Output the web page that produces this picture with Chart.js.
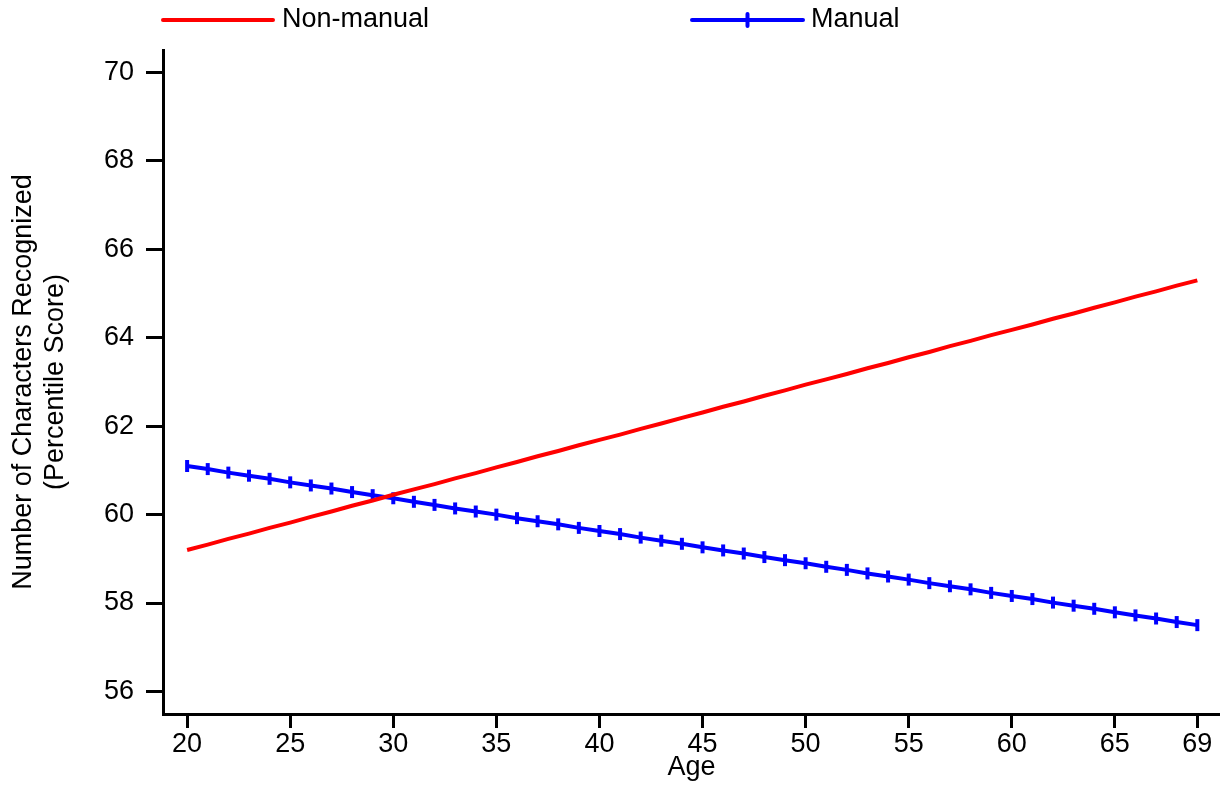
<!DOCTYPE html>
<html>
<head>
<meta charset="utf-8">
<script src="https://cdn.jsdelivr.net/npm/chart.js@4.4.1/dist/chart.umd.min.js"></script>
<style>
  body { margin: 0; background: #fff; }
</style>
</head>
<body>
<canvas id="chart" width="1220" height="786"></canvas>
<script>
// Data
const ages = [20, 21, 22, 23, 24, 25, 26, 27, 28, 29,
              30, 31, 32, 33, 34, 35, 36, 37, 38, 39,
              40, 41, 42, 43, 44, 45, 46, 47, 48, 49,
              50, 51, 52, 53, 54, 55, 56, 57, 58, 59,
              60, 61, 62, 63, 64, 65, 66, 67, 68, 69];

const nonManual = [59.20, 59.32, 59.45, 59.57, 59.70, 59.82, 59.95, 60.07, 60.20, 60.32,
                   60.45, 60.57, 60.69, 60.82, 60.94, 61.07, 61.19, 61.32, 61.44, 61.57,
                   61.69, 61.81, 61.94, 62.06, 62.19, 62.31, 62.44, 62.56, 62.69, 62.81,
                   62.94, 63.06, 63.18, 63.31, 63.43, 63.56, 63.68, 63.81, 63.93, 64.06,
                   64.18, 64.30, 64.43, 64.55, 64.68, 64.80, 64.93, 65.05, 65.18, 65.30];

const manual = [61.10, 61.03, 60.95, 60.88, 60.81, 60.73, 60.66, 60.59, 60.51, 60.44,
                60.37, 60.29, 60.22, 60.14, 60.07, 60.00, 59.92, 59.85, 59.78, 59.70,
                59.63, 59.56, 59.48, 59.41, 59.34, 59.26, 59.19, 59.12, 59.04, 58.97,
                58.90, 58.82, 58.75, 58.67, 58.60, 58.53, 58.45, 58.38, 58.31, 58.23,
                58.16, 58.09, 58.01, 57.94, 57.87, 57.79, 57.72, 57.65, 57.57, 57.50];

const xTicks = [20, 25, 30, 35, 40, 45, 50, 55, 60, 65, 69];
const yTicks = [56, 58, 60, 62, 64, 66, 68, 70];

const seriesNames = ['Non-manual', 'Manual'];

Chart.defaults.font.family = '"Liberation Sans", Arial, sans-serif';
Chart.defaults.font.size = 27;
Chart.defaults.color = '#000';

const toPoints = (vals) => ages.map((a, i) => ({ x: a, y: vals[i] }));

// legend drawn by hand: long line sample with the marker in the middle
const lineLegend = {
  id: 'lineLegend',
  afterDraw(chart) {
    const ctx = chart.ctx;
    const items = [
      { x0: 163, x1: 273, tx: 282, ds: 0, marker: false },
      { x0: 692, x1: 803, tx: 811, ds: 1, marker: true }
    ];
    const y = 20;
    ctx.save();
    items.forEach(it => {
      const ds = chart.data.datasets[it.ds];
      ctx.strokeStyle = ds.borderColor;
      ctx.lineWidth = 4;
      ctx.lineCap = 'round';
      ctx.beginPath();
      ctx.moveTo(it.x0, y);
      ctx.lineTo(it.x1, y);
      ctx.stroke();
      if (it.marker) {
        const mx = (it.x0 + it.x1) / 2;
        ctx.lineWidth = 4;
        ctx.beginPath();
        ctx.moveTo(mx, y - 6);
        ctx.lineTo(mx, y + 6);
        ctx.stroke();
      }
      ctx.fillStyle = '#000';
      ctx.font = '27px "Liberation Sans", Arial, sans-serif';
      ctx.textBaseline = 'middle';
      ctx.textAlign = 'left';
      ctx.fillText(ds.label, it.tx, y);
    });
    ctx.restore();
  }
};

const ctx = document.getElementById('chart').getContext('2d');
new Chart(ctx, {
  type: 'line',
  data: {
    datasets: [
      {
        label: seriesNames[0],
        data: toPoints(nonManual),
        borderColor: '#ff0000',
        backgroundColor: '#ff0000',
        borderWidth: 4,
        pointRadius: 0,
        tension: 0
      },
      {
        label: seriesNames[1],
        data: toPoints(manual),
        borderColor: '#0000ff',
        backgroundColor: '#0000ff',
        borderWidth: 4,
        pointStyle: 'line',
        pointRotation: 90,
        pointRadius: 6,
        pointBorderWidth: 4,
        tension: 0
      }
    ]
  },
  options: {
    responsive: false,
    animation: false,
    layout: { autoPadding: false, padding: { top: 50, left: 0, right: 0, bottom: 0 } },
    plugins: {
      legend: { display: false },
      tooltip: { enabled: false }
    },
    scales: {
      x: {
        type: 'linear',
        min: 18.83,
        max: 70.1,
        afterBuildTicks: (s) => { s.ticks = xTicks.map(v => ({ value: v })); },
        afterFit: (s) => { s.height = 72; },
        ticks: { padding: 0, maxRotation: 0, autoSkip: false },
        grid: { drawOnChartArea: false, drawTicks: true, tickLength: 14, lineWidth: 3, color: '#000' },
        border: { display: true, width: 3, color: '#000' },
        title: { display: true, text: 'Age', padding: { top: 0, bottom: 2 } }
      },
      y: {
        min: 55.49,
        max: 70.51,
        afterBuildTicks: (s) => { s.ticks = yTicks.map(v => ({ value: v })); },
        afterFit: (s) => { s.width = 163; },
        ticks: { padding: 12 },
        grid: { drawOnChartArea: false, drawTicks: true, tickLength: 17, lineWidth: 3, color: '#000' },
        border: { display: true, width: 3, color: '#000' },
        title: {
          display: true,
          text: ['Number of Characters Recognized', '(Percentile Score)'],
          font: { size: 27, lineHeight: 1.185 },
          padding: { top: 8, bottom: 0 }
        }
      }
    }
  },
  plugins: [lineLegend]
});
</script>
</body>
</html>
